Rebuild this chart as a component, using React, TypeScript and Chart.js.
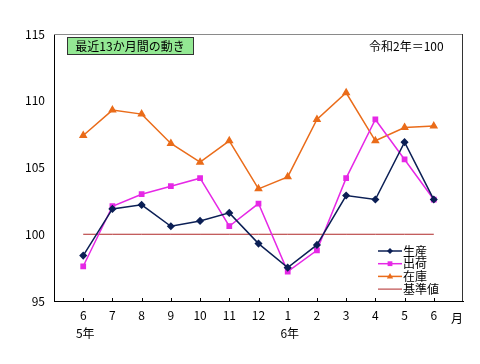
import React, { useEffect, useRef } from "react";
import { Chart, registerables } from "chart.js";

Chart.register(...registerables);

const monthLabels = ["6", "7", "8", "9", "10", "11", "12", "1", "2", "3", "4", "5", "6"];
const production = [98.4, 101.9, 102.2, 100.6, 101.0, 101.6, 99.3, 97.5, 99.2, 102.9, 102.6, 106.9, 102.6];
const shipments = [97.6, 102.1, 103.0, 103.6, 104.2, 100.6, 102.3, 97.2, 98.8, 104.2, 108.6, 105.6, 102.6];
const inventory = [107.4, 109.3, 109.0, 106.8, 105.4, 107.0, 103.4, 104.3, 108.6, 110.6, 107.0, 108.0, 108.1];
const baseline = [100, 100, 100, 100, 100, 100, 100, 100, 100, 100, 100, 100, 100];
const yearLabels = [
  { index: 0, text: "5年" },
  { index: 7, text: "6年" },
];
const titleText = "最近13か月間の動き";
const noteText = "令和2年＝100";
const unitText = "月";

const FONT = "'Noto Sans CJK JP', 'Noto Sans', sans-serif";

const toPoints = (arr: number[]) => arr.map((v, i) => ({ x: i + 1, y: v }));

const overlayPlugin = {
  id: "overlay",
  afterDraw(chart: any) {
    const { ctx, chartArea, scales } = chart;
    const xs = scales.x;
    ctx.save();
    ctx.lineWidth = 1;
    ctx.strokeStyle = "#8a8a8a";
    ctx.beginPath();
    ctx.moveTo(chartArea.left, chartArea.top + 0.5);
    ctx.lineTo(chartArea.right, chartArea.top + 0.5);
    ctx.stroke();
    ctx.strokeStyle = "#333333";
    ctx.beginPath();
    ctx.moveTo(chartArea.right - 0.5, chartArea.top);
    ctx.lineTo(chartArea.right - 0.5, chartArea.bottom);
    ctx.stroke();
    ctx.strokeStyle = "#000000";
    for (let i = 0; i < monthLabels.length; i++) {
      const px = Math.round(xs.getPixelForValue(i + 1)) + 0.5;
      ctx.beginPath();
      ctx.moveTo(px, chartArea.bottom - 3);
      ctx.lineTo(px, chartArea.bottom);
      ctx.stroke();
    }
    ctx.fillStyle = "#93e893";
    ctx.fillRect(67, 37, 126, 17);
    ctx.strokeStyle = "#333333";
    ctx.strokeRect(67.5, 37.5, 126, 17);
    ctx.fillStyle = "#000000";
    ctx.font = `12px ${FONT}`;
    ctx.textAlign = "center";
    ctx.textBaseline = "middle";
    ctx.fillText(titleText, 130, 46);
    ctx.font = `12px ${FONT}`;
    ctx.textAlign = "left";
    ctx.fillText(noteText, 369, 46);
    ctx.textAlign = "center";
    for (const y of yearLabels) {
      ctx.fillText(y.text, xs.getPixelForValue(y.index + 1) + 2, 333);
    }
    ctx.fillText(unitText, 457, 318);
    const ds = chart.data.datasets;
    const ys0 = 251;
    const step = 12.7;
    ds.forEach((d: any, k: number) => {
      const yy = ys0 + k * step;
      ctx.strokeStyle = d.borderColor;
      ctx.lineWidth = d.borderWidth;
      ctx.beginPath();
      ctx.moveTo(378, yy);
      ctx.lineTo(402, yy);
      ctx.stroke();
      if (d.pointRadius > 0) {
        ctx.fillStyle = d.pointBackgroundColor;
        const r = d.pointRadius;
        ctx.beginPath();
        if (d.pointStyle === "rectRot") {
          ctx.moveTo(390, yy - r);
          ctx.lineTo(390 + r, yy);
          ctx.lineTo(390, yy + r);
          ctx.lineTo(390 - r, yy);
        } else if (d.pointStyle === "rect") {
          ctx.rect(390 - r * 0.8, yy - r * 0.8, r * 1.6, r * 1.6);
        } else {
          ctx.moveTo(390, yy - r);
          ctx.lineTo(390 + r * 0.9, yy + r * 0.6);
          ctx.lineTo(390 - r * 0.9, yy + r * 0.6);
        }
        ctx.closePath();
        ctx.fill();
      }
      ctx.fillStyle = "#000000";
      ctx.font = `12px ${FONT}`;
      ctx.textAlign = "left";
      ctx.textBaseline = "middle";
      ctx.fillText(d.label, 403, yy);
    });
    ctx.restore();
  },
};

export default function App() {
  const ref = useRef<HTMLCanvasElement | null>(null);
  useEffect(() => {
    document.body.style.margin = "0";
    const canvas = ref.current;
    if (!canvas) return;
    const chart = new Chart(canvas, {
      type: "line",
      data: {
        datasets: [
          {
            label: "生産",
            data: toPoints(production),
            borderColor: "#0b1f55",
            backgroundColor: "#0b1f55",
            pointBackgroundColor: "#0b1f55",
            pointBorderColor: "#0b1f55",
            borderWidth: 1.5,
            pointStyle: "rectRot",
            pointRadius: 3,
          },
          {
            label: "出荷",
            data: toPoints(shipments),
            borderColor: "#e628e6",
            backgroundColor: "#e628e6",
            pointBackgroundColor: "#e628e6",
            pointBorderColor: "#e628e6",
            borderWidth: 1.5,
            pointStyle: "rect",
            pointRadius: 3,
          },
          {
            label: "在庫",
            data: toPoints(inventory),
            borderColor: "#ea6c1a",
            backgroundColor: "#ea6c1a",
            pointBackgroundColor: "#ea6c1a",
            pointBorderColor: "#ea6c1a",
            borderWidth: 1.5,
            pointStyle: "triangle",
            pointRadius: 3.5,
          },
          {
            label: "基準値",
            data: toPoints(baseline),
            borderColor: "#b02828",
            backgroundColor: "#b02828",
            pointBackgroundColor: "#b02828",
            borderWidth: 1,
            pointRadius: 0,
          },
        ],
      },
      options: {
        animation: false,
        responsive: false,
        maintainAspectRatio: false,
        layout: { padding: { left: 0, right: 17, top: 34, bottom: 0 } },
        plugins: {
          legend: { display: false },
          tooltip: { enabled: false },
        },
        elements: { line: { tension: 0 } },
        scales: {
          x: {
            type: "linear",
            min: 0,
            max: 14,
            grid: { display: false, drawTicks: false },
            border: { display: true, color: "#000000", width: 1 },
            ticks: {
              stepSize: 1,
              autoSkip: false,
              maxRotation: 0,
              padding: 7,
              color: "#000000",
              font: { family: FONT, size: 12 },
              callback: (v: any) => {
                const i = Number(v);
                return i >= 1 && i <= monthLabels.length ? monthLabels[i - 1] : "";
              },
            },
            afterFit: (s: any) => {
              s.height = 63;
            },
          },
          y: {
            min: 95,
            max: 115,
            grid: { display: false, drawTicks: false },
            border: { display: true, color: "#000000", width: 1 },
            ticks: {
              stepSize: 5,
              padding: 9,
              color: "#000000",
              font: { family: FONT, size: 12 },
            },
            afterFit: (s: any) => {
              s.width = 54;
            },
          },
        },
      },
      plugins: [overlayPlugin],
    });
    return () => chart.destroy();
  }, []);
  return (
    <div style={{ width: 480, height: 364, background: "#ffffff" }}>
      <canvas ref={ref} width={480} height={364} style={{ display: "block" }} />
    </div>
  );
}
